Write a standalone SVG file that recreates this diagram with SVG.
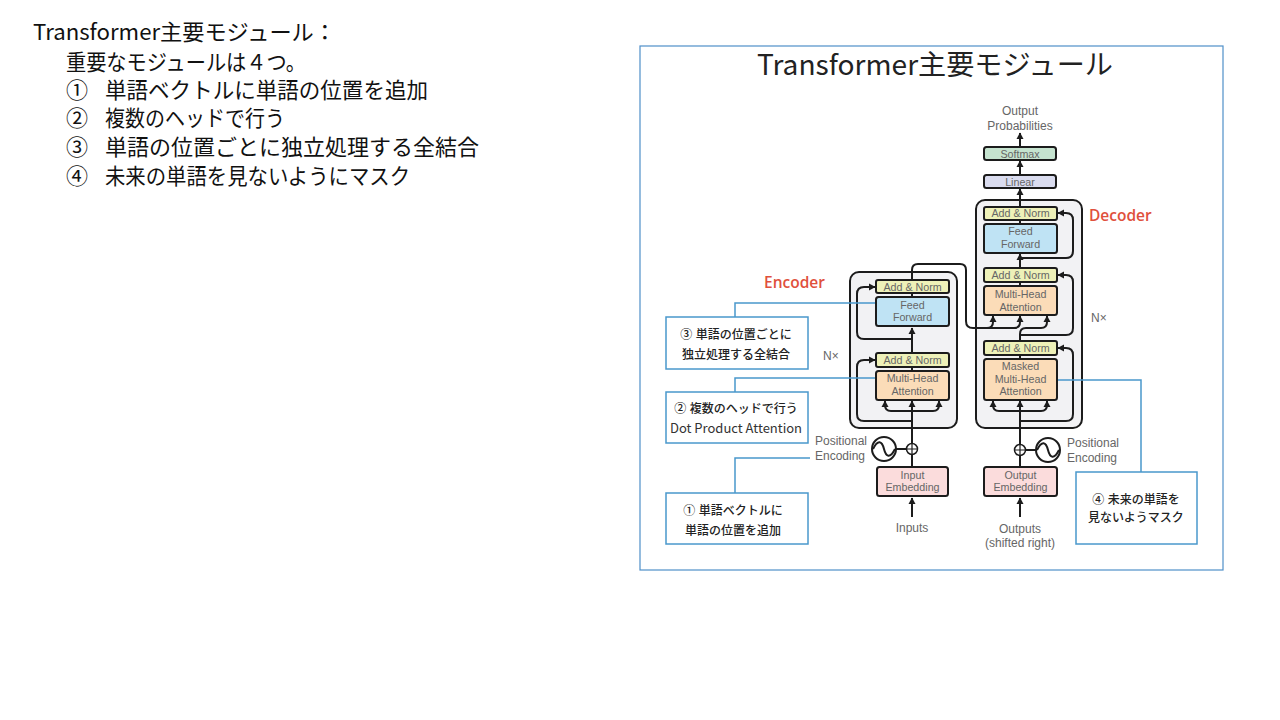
<svg xmlns="http://www.w3.org/2000/svg" width="1280" height="720" viewBox="0 0 1280 720">
<style>
text{font-family:"Liberation Sans","Noto Sans CJK JP",sans-serif}
.jp{font-family:"Noto Sans CJK JP","Noto Sans",sans-serif}
.m{font-size:22px;fill:#111}
.l{font-size:10.700px;fill:#666;text-anchor:middle}
.o{font-size:12px;fill:#666;text-anchor:middle}
.s{font-size:12px;fill:#666}
.c{font-size:12px;fill:#222;text-anchor:middle;font-weight:500}
.d{font-size:13px;fill:#333;text-anchor:middle;font-weight:400}
.h{font-size:15.500px;fill:#e0503c;font-weight:600;font-family:"Open Sans",sans-serif}
.b{stroke:#1c1c1c;stroke-width:2}
.w{fill:none;stroke:#1c1c1c;stroke-width:2}
.call{fill:#fff;stroke:#4a98cc;stroke-width:1.5}
.lead{fill:none;stroke:#4a98cc;stroke-width:1.5}
</style>
<defs>
<marker id="a" markerUnits="userSpaceOnUse" markerWidth="8" markerHeight="8" refX="6" refY="4" orient="auto"><path d="M0 0.5L6.5 4L0 7.5Z" fill="#1c1c1c"/></marker>
</defs>
<g id="left-text">
<text class="jp m" x="33" y="40" textLength="303" lengthAdjust="spacingAndGlyphs">Transformer主要モジュール：</text>
<text class="m" x="66" y="70" textLength="240" lengthAdjust="spacingAndGlyphs">重要なモジュールは４つ。</text>
<text class="m" x="66" y="98">①</text><text class="m" x="105" y="98" textLength="323" lengthAdjust="spacingAndGlyphs">単語ベクトルに単語の位置を追加</text>
<text class="m" x="66" y="126">②</text><text class="m" x="105" y="126" textLength="180" lengthAdjust="spacingAndGlyphs">複数のヘッドで行う</text>
<text class="m" x="66" y="155">③</text><text class="m" x="105" y="155" textLength="374" lengthAdjust="spacingAndGlyphs">単語の位置ごとに独立処理する全結合</text>
<text class="m" x="66" y="184">④</text><text class="m" x="105" y="184" textLength="305" lengthAdjust="spacingAndGlyphs">未来の単語を見ないようにマスク</text>
</g>
<g id="frame">
<rect x="640" y="46" width="583" height="524" fill="#fff" stroke="#4f8fc9" stroke-width="1.2"/>
<text class="jp" x="757" y="75" font-size="28" fill="#222" textLength="356" lengthAdjust="spacingAndGlyphs">Transformer主要モジュール</text>
</g>
<g id="encoder-stack"><rect x="850" y="272" width="107" height="156" rx="9" fill="#f2f2f4" stroke="#1c1c1c" stroke-width="2"/><text class="h" x="764" y="288">Encoder</text><text class="s" x="823" y="360">N×</text></g>
<g id="decoder-stack"><rect x="976" y="200" width="106" height="228" rx="9" fill="#f2f2f4" stroke="#1c1c1c" stroke-width="2"/><text class="h" x="1089" y="221">Decoder</text><text class="s" x="1091" y="322">N×</text></g>
<g id="connectors">
<path class="w" d="M912 517V498" marker-end="url(#a)"/>
<path class="w" d="M912 467V455"/>
<path class="w" d="M912 444V401" marker-end="url(#a)"/>
<path class="w" d="M912 367V371"/>
<path class="w" d="M912 353V328" marker-end="url(#a)"/>
<path class="w" d="M912 293V297"/>
<path class="w" d="M912 421H864Q857 421 857 414V367Q857 360 864 360H875" marker-end="url(#a)"/>
<path class="w" d="M912 339H864Q857 339 857 332V294Q857 287 864 287H875" marker-end="url(#a)"/>
<path class="w" d="M912 411H891Q885 411 885 405V401" marker-end="url(#a)"/>
<path class="w" d="M912 411H933Q939 411 939 405V401" marker-end="url(#a)"/>
<path class="w" d="M912 280V270Q912 264 918 264H960Q966 264 966 270V321Q966 328 973 328H987Q993 328 993 322V316" marker-end="url(#a)"/>
<path class="w" d="M985 328H1014Q1020 328 1020 322V316" marker-end="url(#a)"/>
<path class="w" d="M1020 341V334Q1020 328 1026 328H1041Q1047 328 1047 322V316" marker-end="url(#a)"/>
<path class="w" d="M1020 517V498" marker-end="url(#a)"/>
<path class="w" d="M1020 467V456"/>
<path class="w" d="M1020 444V401" marker-end="url(#a)"/>
<path class="w" d="M1020 355V359"/>
<path class="w" d="M1020 282V286"/>
<path class="w" d="M1020 268V254" marker-end="url(#a)"/>
<path class="w" d="M1020 220V224"/>
<path class="w" d="M1020 207V189" marker-end="url(#a)"/>
<path class="w" d="M1020 175V161" marker-end="url(#a)"/>
<path class="w" d="M1020 147V133" marker-end="url(#a)"/>
<path class="w" d="M1020 421H1066Q1073 421 1073 414V355Q1073 348 1066 348H1058" marker-end="url(#a)"/>
<path class="w" d="M1020 335H1066Q1073 335 1073 328V282Q1073 275 1066 275H1058" marker-end="url(#a)"/>
<path class="w" d="M1020 258H1066Q1073 258 1073 251V220Q1073 213 1066 213H1058" marker-end="url(#a)"/>
<path class="w" d="M1020 411H999Q993 411 993 405V401" marker-end="url(#a)"/>
<path class="w" d="M1020 411H1041Q1047 411 1047 405V401" marker-end="url(#a)"/>
<path class="w" d="M896 449H906.500M1026 450H1036"/>
<path class="lead" d="M735 317V303H876"/>
<path class="lead" d="M735 392V378H876"/>
<path class="lead" d="M735 493V458H810"/>
<path class="lead" d="M1058 380H1141V472"/>
</g>
<g id="output-probabilities"><text class="o" x="1020" y="115">Output</text><text class="o" x="1020" y="130">Probabilities</text></g>
<g id="softmax"><rect class="b" x="984" y="147" width="72" height="13" rx="2.500" fill="#c5e3cf"/><text class="l" x="1020" y="157.500">Softmax</text></g>
<g id="linear"><rect class="b" x="984" y="175" width="72" height="13" rx="2.500" fill="#dadcef"/><text class="l" x="1020" y="185.500">Linear</text></g>
<g id="dec-add-norm-3"><rect class="b" x="984" y="207" width="73" height="13" rx="2" fill="#eef1b8"/><text class="l" x="1020.500" y="217">Add &amp; Norm</text></g>
<g id="dec-feed-forward"><rect class="b" x="984" y="224" width="73" height="29" rx="2.500" fill="#bfe3f4"/><text class="l" x="1020.500" y="235">Feed</text><text class="l" x="1020.500" y="248">Forward</text></g>
<g id="dec-add-norm-2"><rect class="b" x="984" y="268" width="73" height="14" rx="2" fill="#eef1b8"/><text class="l" x="1020.500" y="279">Add &amp; Norm</text></g>
<g id="dec-attention"><rect class="b" x="984" y="286" width="73" height="29" rx="2.500" fill="#fbdcb8"/><text class="l" x="1020.500" y="298">Multi-Head</text><text class="l" x="1020.500" y="311">Attention</text></g>
<g id="dec-add-norm-1"><rect class="b" x="984" y="341" width="73" height="14" rx="2" fill="#eef1b8"/><text class="l" x="1020.500" y="352">Add &amp; Norm</text></g>
<g id="dec-masked"><rect class="b" x="984" y="359" width="73" height="41" rx="2.500" fill="#fbdcb8"/><text class="l" x="1020.500" y="370">Masked</text><text class="l" x="1020.500" y="383">Multi-Head</text><text class="l" x="1020.500" y="395">Attention</text></g>
<g id="enc-add-norm-2"><rect class="b" x="876" y="280" width="73" height="13" rx="2" fill="#eef1b8"/><text class="l" x="912.500" y="290.500">Add &amp; Norm</text></g>
<g id="enc-feed-forward"><rect class="b" x="876" y="297" width="73" height="29" rx="2.500" fill="#bfe3f4"/><text class="l" x="912.500" y="309">Feed</text><text class="l" x="912.500" y="321">Forward</text></g>
<g id="enc-add-norm-1"><rect class="b" x="876" y="353" width="73" height="14" rx="2" fill="#eef1b8"/><text class="l" x="912.500" y="364">Add &amp; Norm</text></g>
<g id="enc-attention"><rect class="b" x="876" y="371" width="73" height="29" rx="2.500" fill="#fbdcb8"/><text class="l" x="912.500" y="382">Multi-Head</text><text class="l" x="912.500" y="395">Attention</text></g>
<g id="enc-pos"><circle class="w" cx="884" cy="449" r="12" fill="#fff"/><path class="w" d="M873 449C878 439 882 441 884 449S890 459 895 449" stroke-width="1.500"/><circle cx="912" cy="449" r="5.500" fill="#fff" stroke="#1c1c1c" stroke-width="1.500"/><path d="M906.500 449H917.500M912 443.500V454.500" stroke="#1c1c1c" stroke-width="1.200"/><text class="s" x="815" y="445">Positional</text><text class="s" x="815" y="460">Encoding</text></g>
<g id="dec-pos"><circle class="w" cx="1048" cy="450" r="12" fill="#fff"/><path class="w" d="M1037 450C1042 440 1046 442 1048 450S1054 460 1059 450" stroke-width="1.500"/><circle cx="1020" cy="450" r="5.500" fill="#fff" stroke="#1c1c1c" stroke-width="1.500"/><path d="M1014.500 450H1025.500M1020 444.500V455.500" stroke="#1c1c1c" stroke-width="1.200"/><text class="s" x="1067" y="447">Positional</text><text class="s" x="1067" y="462">Encoding</text></g>
<g id="input-embedding"><rect class="b" x="877" y="467" width="71" height="29" rx="2.500" fill="#fbdcdc"/><text class="l" x="912.500" y="479">Input</text><text class="l" x="912.500" y="491">Embedding</text></g>
<g id="output-embedding"><rect class="b" x="984" y="467" width="73" height="29" rx="2.500" fill="#fbdcdc"/><text class="l" x="1020.500" y="479">Output</text><text class="l" x="1020.500" y="491">Embedding</text></g>
<g id="inputs"><text class="o" x="912" y="532">Inputs</text></g>
<g id="outputs"><text class="o" x="1020" y="533">Outputs</text><text class="o" x="1020" y="547">(shifted right)</text></g>
<g id="callout-3"><rect class="call" x="666" y="317" width="142" height="52"/><text class="c" x="736" y="339">③ 単語の位置ごとに</text><text class="c" x="736" y="359">独立処理する全結合</text></g>
<g id="callout-2"><rect class="call" x="666" y="392" width="142" height="51"/><text class="c" x="736" y="413">② 複数のヘッドで行う</text><text class="d jp" x="736" y="433">Dot Product Attention</text></g>
<g id="callout-1"><rect class="call" x="666" y="493" width="142" height="51"/><text class="c" x="733" y="515">① 単語ベクトルに</text><text class="c" x="733" y="535">単語の位置を追加</text></g>
<g id="callout-4"><rect class="call" x="1076" y="472" width="121" height="72"/><text class="c" x="1136" y="504">④ 未来の単語を</text><text class="c" x="1136" y="522">見ないようマスク</text></g>
</svg>
